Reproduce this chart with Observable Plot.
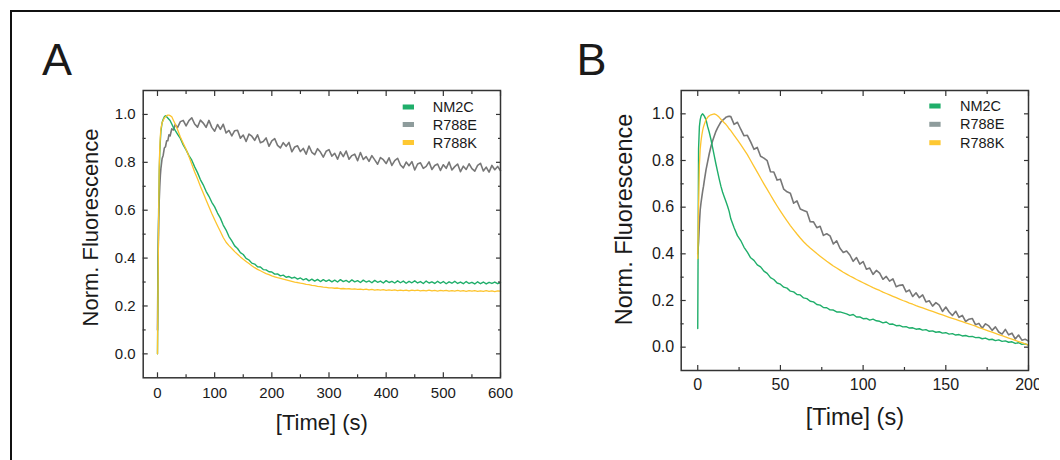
<!DOCTYPE html>
<html><head><meta charset="utf-8">
<script src="https://cdn.jsdelivr.net/npm/d3@7"></script>
<script src="https://cdn.jsdelivr.net/npm/@observablehq/plot@0.6"></script>
<style>
html,body{margin:0;padding:0;background:#fff;}
#root{position:relative;width:1060px;height:460px;overflow:hidden;background:#fff;}
#border{position:absolute;left:10px;top:10px;width:1060px;height:460px;border-top:2px solid #111;border-left:2px solid #111;}
#pa{position:absolute;left:0;top:0;width:530px;height:460px;}
#pb{position:absolute;left:530px;top:0;width:509px;height:460px;overflow:hidden;}
#root svg{max-width:none !important;}
</style></head><body>
<div id="root"><div id="border"></div><div id="pa"></div><div id="pb"></div></div>
<script>
// ---------- Panel A data ----------
const timeA = [0,1,2,3,4,5,6,8,10,12,14,16,18,20,22,25,28,31,35,40,
  45,50,55,60,65,70,75,80,85,90,
  95,100,105,110,115,120,125,130,135,140,
  145,150,155,160,165,170,175,180,185,190,
  195,200,205,210,215,220,225,230,235,240,
  245,250,255,260,265,270,275,280,285,290,
  295,300,305,310,315,320,325,330,335,340,
  345,350,355,360,365,370,375,380,385,390,
  395,400,405,410,415,420,425,430,435,440,
  445,450,455,460,465,470,475,480,485,490,
  495,500,505,510,515,520,525,530,535,540,
  545,550,555,560,565,570,575,580,585,590,
  595,600];
const nm2cA = [0,.35,.6,.75,.84,.89,.93,.965,.98,.99,.995,.99,.985,.98,.975,.96,.945,.933,.918,.9,
  .873,.852,.828,.809,.781,.757,.728,.706,.679,.658,
  .633,.614,.588,.567,.538,.517,.49,.472,.451,.44,
  .423,.415,.399,.392,.379,.375,.364,.363,.352,.351,
  .343,.342,.333,.334,.326,.329,.32,.323,.316,.32,
  .312,.317,.309,.314,.305,.312,.304,.311,.302,.31,
  .303,.309,.301,.308,.3,.31,.302,.307,.299,.309,
  .301,.306,.298,.308,.3,.305,.297,.307,.299,.304,
  .296,.306,.298,.303,.296,.305,.297,.304,.295,.303,
  .297,.305,.296,.302,.294,.304,.296,.301,.294,.303,
  .295,.302,.293,.301,.295,.303,.294,.3,.293,.302,
  .294,.299,.292,.301,.293,.3,.292,.299,.294,.3,
  .293,.297];
const r788eA = [.1,.4,.55,.64,.7,.745,.775,.815,.83,.86,.865,.89,.89,.915,.91,.94,.935,.958,.945,.97,
  .975,.952,.974,.986,.96,.947,.976,.964,.946,.975,
  .946,.93,.958,.938,.959,.923,.933,.91,.932,.934,
  .901,.914,.887,.918,.909,.892,.915,.882,.887,.902,
  .867,.89,.899,.871,.86,.882,.867,.883,.844,.864,
  .869,.845,.858,.834,.868,.842,.832,.857,.843,.822,
  .846,.853,.826,.838,.813,.844,.824,.847,.813,.828,
  .834,.807,.841,.812,.824,.804,.828,.81,.792,.82,
  .811,.795,.819,.787,.807,.817,.789,.777,.801,.786,
  .803,.768,.793,.798,.775,.783,.802,.77,.787,.793,
  .766,.79,.775,.801,.768,.782,.793,.761,.784,.77,
  .794,.774,.763,.787,.796,.764,.78,.759,.787,.769,
  .783,.765];
const r788kA = [0,.3,.55,.78,.86,.91,.94,.965,.975,.985,.99,.995,.997,.997,.995,.99,.975,.96,.937,.906,
  .88,.855,.824,.792,.76,.731,.70,.672,.643,.614,
  .586,.56,.535,.511,.486,.466,.452,.44,.427,.416,
  .405,.395,.386,.377,.368,.36,.353,.347,.341,.335,
  .331,.326,.322,.318,.315,.312,.309,.306,.303,.3,
  .298,.295,.293,.29,.289,.286,.285,.282,.281,.279,
  .278,.276,.276,.274,.275,.272,.273,.271,.272,.27,
  .271,.269,.27,.268,.27,.267,.269,.266,.268,.266,
  .268,.265,.267,.265,.267,.264,.266,.264,.266,.263,
  .266,.264,.266,.263,.265,.263,.266,.263,.265,.262,
  .265,.263,.265,.262,.264,.262,.265,.262,.264,.261,
  .264,.262,.264,.261,.263,.261,.264,.261,.263,.26,
  .263,.262];

// ---------- Panel B data ----------
const timeB = [0,0.5,1,1.5,2,2.5,3,3.5,4,5,6,7,8,9,10,11,12,13,14,15,16,17,18,19,
  20,22,24,26,28,30,32,34,36,38,
  40,42,44,46,48,50,52,54,56,58,
  60,62,64,66,68,70,72,74,76,78,
  80,82,84,86,88,90,92,94,96,98,
  100,102,104,106,108,110,112,114,116,118,
  120,122,124,126,128,130,132,134,136,138,
  140,142,144,146,148,150,152,154,156,158,
  160,162,164,166,168,170,172,174,176,178,
  180,182,184,186,188,190,192,194,196,198,
  200];
const nm2cB = [.08,.85,.945,.975,.99,.997,1.0,.995,.99,.975,.945,.92,.89,.855,.82,.785,.752,.72,.69,.665,.645,.625,.605,.582,
  .55,.512,.478,.457,.428,.407,.383,.372,.353,.344,
  .326,.316,.298,.29,.275,.27,.257,.253,.24,.237,
  .226,.224,.211,.208,.197,.194,.183,.18,.17,.169,
  .16,.159,.151,.151,.147,.143,.136,.14,.129,.13,
  .122,.123,.116,.12,.113,.111,.104,.108,.098,.099,
  .092,.093,.087,.088,.082,.083,.077,.079,.073,.075,
  .068,.07,.064,.066,.06,.062,.056,.058,.052,.054,
  .048,.05,.045,.046,.041,.042,.036,.039,.032,.034,
  .028,.031,.025,.027,.021,.023,.016,.019,.012,.014,
  .009];
const r788eB = [.4,.45,.53,.59,.62,.645,.67,.69,.715,.76,.795,.83,.86,.885,.905,.925,.94,.953,.965,.972,.978,.985,.988,.99,
  .988,.955,.964,.934,.906,.908,.88,.848,.856,.818,
  .81,.799,.752,.751,.716,.72,.677,.666,.66,.617,
  .627,.592,.586,.58,.538,.537,.512,.518,.479,.486,
  .477,.442,.456,.424,.406,.412,.395,.368,.384,.356,
  .367,.334,.339,.312,.329,.317,.291,.303,.283,.293,
  .259,.265,.267,.237,.245,.217,.233,.212,.224,.194,
  .199,.176,.191,.18,.153,.172,.151,.136,.154,.128,
  .136,.11,.12,.123,.096,.102,.081,.1,.091,.072,
  .087,.065,.056,.076,.053,.06,.035,.052,.03,.034,
  .026];
const r788kB = [.38,.6,.78,.85,.885,.91,.93,.945,.955,.975,.985,.992,.996,.998,1.0,.997,.992,.985,.977,.969,.962,.955,.946,.936,
  .928,.908,.888,.868,.847,.825,.80,.775,.75,.725,
  .70,.676,.652,.628,.605,.583,.562,.541,.521,.503,
  .485,.468,.452,.438,.425,.413,.401,.39,.379,.368,
  .358,.348,.339,.33,.321,.313,.305,.298,.29,.283,
  .276,.269,.262,.255,.249,.243,.236,.23,.224,.218,
  .212,.206,.2,.195,.189,.184,.178,.173,.168,.163,
  .158,.153,.148,.143,.138,.133,.128,.123,.119,.114,
  .109,.104,.1,.095,.09,.084,.079,.074,.069,.064,
  .059,.054,.049,.044,.039,.034,.029,.024,.019,.014,
  .009];

// ---------- labels & ticks ----------
const seriesNames = ["NM2C", "R788E", "R788K"];
const xMajorA = [0,100,200,300,400,500,600];
const xMinorA = [50,150,250,350,450,550];
const xMajorB = [0,50,100,150,200];
const xMinorB = [25,75,125,175];
const yMajor = [0,0.2,0.4,0.6,0.8,1.0];
const yMinor = [0.1,0.3,0.5,0.7,0.9];
const xTitle = "[Time] (s)";
const yTitle = "Norm. Fluorescence";

const lineColors = {"NM2C":"#1fae6a","R788E":"#777777","R788K":"#fdc42e"};
const swatchColors = {"NM2C":"#1fae6a","R788E":"#8e9c9c","R788K":"#fec832"};
const lineWidths = {"NM2C":1.4,"R788E":1.6,"R788K":1.3};
const fontFam = '"Liberation Sans", Arial, Helvetica, sans-serif';

function makePanel(cfg) {
  const valuesBy = cfg.values;
  seriesNames.forEach(n => {
    if (valuesBy[n].length !== cfg.times.length) throw new Error(cfg.letter + " " + n + " length " + valuesBy[n].length + " vs " + cfg.times.length);
  });
  const drawOrder = ["R788E", "NM2C", "R788K"];
  const tk = 5, mk = 3, tc = "#333";
  const tickAxes = [];
  for (const a of ["bottom","top"]) {
    tickAxes.push(Plot.axisX(cfg.xMajor, {anchor:a, tickSize:tk, dy: a==="bottom"?-tk:tk, tickFormat:()=>"", label:null, stroke:tc, strokeWidth:1.2}));
    tickAxes.push(Plot.axisX(cfg.xMinor, {anchor:a, tickSize:mk, dy: a==="bottom"?-mk:mk, tickFormat:()=>"", label:null, stroke:tc, strokeWidth:1.2}));
  }
  for (const a of ["left","right"]) {
    tickAxes.push(Plot.axisY(yMajor, {anchor:a, tickSize:tk, dx: a==="left"?tk:-tk, tickFormat:()=>"", label:null, stroke:tc, strokeWidth:1.2}));
    tickAxes.push(Plot.axisY(yMinor, {anchor:a, tickSize:mk, dx: a==="left"?mk:-mk, tickFormat:()=>"", label:null, stroke:tc, strokeWidth:1.2}));
  }
  const svg = Plot.plot({
    width: 530, height: 460,
    marginLeft: cfg.ml, marginRight: cfg.mr, marginTop: cfg.mt, marginBottom: cfg.mb,
    style: {fontFamily: fontFam, background: "transparent", overflow: "visible", maxWidth: "none", color: "#1a1a1a"},
    x: {domain: cfg.xDomain},
    y: {domain: [-0.1, 1.1]},
    marks: [
      ...drawOrder.map(n => Plot.line(cfg.times.map((t,i)=>({t, v: valuesBy[n][i]})), {
        x: "t", y: "v", stroke: lineColors[n], strokeWidth: lineWidths[n], strokeLinejoin: "round"
      })),
      Plot.frame({stroke: "#333", strokeWidth: 1.5}),
      ...tickAxes,
      Plot.axisX(cfg.xMajor, {anchor:"bottom", tickSize:0, tickPadding:cfg.xPad, fontSize:cfg.tickFont, label:null, fill:"#1a1a1a"}),
      Plot.axisY(yMajor, {anchor:"left", tickSize:0, tickPadding:cfg.yPad, fontSize:cfg.tickFont, tickFormat:d=>d.toFixed(1), label:null, fill:"#1a1a1a"}),
      Plot.text([xTitle], {text: d=>d, frameAnchor:"bottom", textAnchor:"middle", lineAnchor:"middle", dy: cfg.xTitleDy, fontSize: cfg.titleFont, fill:"#1a1a1a"}),
      Plot.text([yTitle], {text: d=>d, frameAnchor:"left", textAnchor:"middle", lineAnchor:"middle", rotate:-90, dx: cfg.yTitleDx, dy: cfg.yTitleDy, fontSize: cfg.titleFont, fill:"#1a1a1a"})
    ]
  });
  const s = d3.select(svg);
  s.append("text").attr("x", cfg.letterX).attr("y", 75).attr("font-family", fontFam).attr("text-anchor", "start")
    .attr("font-size", 45).attr("fill", "#1a1a1a").text(cfg.letter);
  const g = s.append("g").attr("font-family", fontFam).attr("font-size", cfg.legendFont).attr("fill", "#1a1a1a").attr("text-anchor", "start");
  seriesNames.forEach((n, i) => {
    g.append("rect").attr("x", cfg.legX).attr("y", cfg.legY[i] - 2.5).attr("width", 11.3).attr("height", 5).attr("fill", swatchColors[n]);
    g.append("text").attr("x", cfg.legTextX).attr("y", cfg.legY[i]).attr("dy", "0.35em").text(n);
  });
  return svg;
}

document.getElementById("pa").appendChild(makePanel({
  letter: "A", letterX: 42, times: timeA,
  values: {"NM2C": nm2cA, "R788E": r788eA, "R788K": r788kA},
  xDomain: [-25, 600], xMajor: xMajorA, xMinor: xMinorA,
  ml: 142.7, mr: 30, mt: 90, mb: 82.7,
  xPad: 9.4, yPad: 7.5, tickFont: 15, titleFont: 22,
  xTitleDy: 45.5, yTitleDx: -52.3, yTitleDy: -6.7,
  legX: 402.7, legTextX: 432.7, legY: [107, 124.5, 142.5], legendFont: 14.5
}));
document.getElementById("pb").appendChild(makePanel({
  letter: "B", letterX: 46.5, times: timeB,
  values: {"NM2C": nm2cB, "R788E": r788eB, "R788K": r788kB},
  xDomain: [-10, 200], xMajor: xMajorB, xMinor: xMinorB,
  ml: 150.7, mr: 32, mt: 90, mb: 90,
  xPad: 8.3, yPad: 7, tickFont: 16, titleFont: 23.5,
  xTitleDy: 46.5, yTitleDx: -56.7, yTitleDy: -11,
  legX: 399.3, legTextX: 430, legY: [106, 124.3, 142.7], legendFont: 14.5
}));
</script>
</body></html>
